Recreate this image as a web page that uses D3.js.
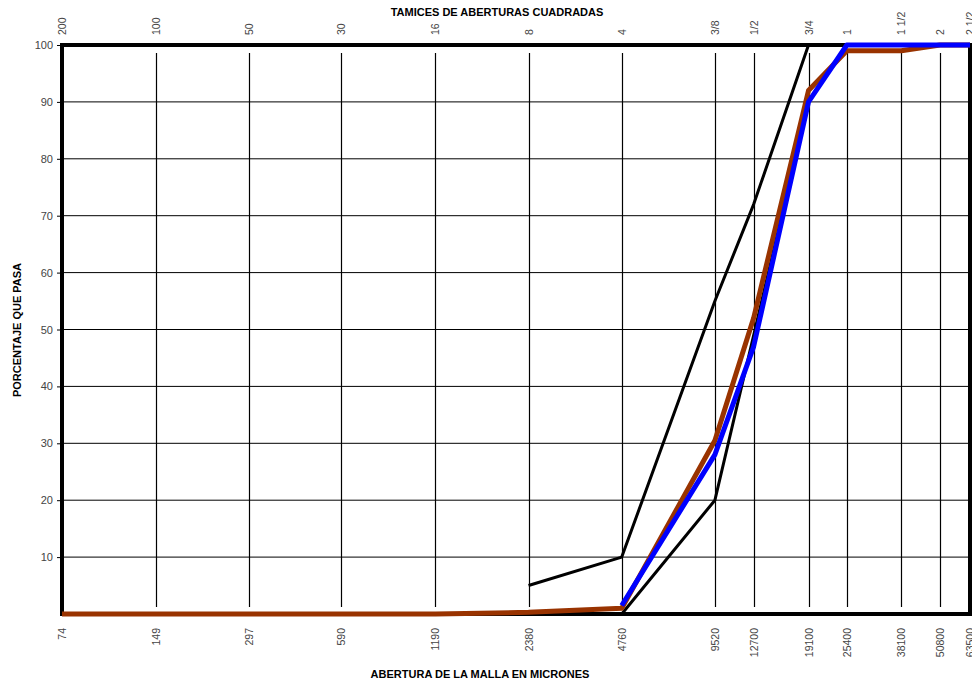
<!DOCTYPE html>
<html><head><meta charset="utf-8">
<script src="https://cdn.jsdelivr.net/npm/d3@7"></script>
<style>body{margin:0;background:#fff;} svg{display:block;font-family:"Liberation Sans",Arial,sans-serif;}</style>
</head><body>
<svg id="c" width="972" height="683"></svg>
<script>
const micrones = [74,149,297,590,1190,2380,4760,9520,12700,19100,25400,38100,50800,63500];
const tamices = ["200","100","50","30","16","8","4","3/8","1/2","3/4","1","1 1/2","2","2 1/2"];
const yTicks = [10,20,30,40,50,60,70,80,90,100];

const limiteSup = [[2380,5],[4760,10],[9520,55],[12700,72],[19100,100],[25400,100]];
const limiteInf = [[4760,0],[9520,20],[19100,90],[25400,100],[63500,100]];
const granulometria = [[74,0],[149,0],[297,0],[590,0],[1190,0],[2380,0.3],[4760,1],[9520,30.5],[12700,52],[19100,92],[25400,99],[38100,99],[50800,100],[63500,100]];
const muestra = [[4760,1.5],[9520,28],[12700,47],[19100,90],[25400,100],[38100,100],[50800,100],[63500,100]];

const svg = d3.select("#c");
const L=62,R=970,T=45,B=614;
const x = d3.scaleLog().domain([74,63500]).range([L,R]);
const y = d3.scaleLinear().domain([0,100]).range([B,T]);

// horizontal gridlines
svg.append("g").selectAll("line").data(yTicks.slice(0,-1)).join("line")
  .attr("x1",L).attr("x2",R).attr("y1",d=>y(d)).attr("y2",d=>y(d))
  .attr("stroke","#000").attr("stroke-width",1);
// vertical gridlines
svg.append("g").selectAll("line").data(micrones.slice(1,-1)).join("line")
  .attr("x1",d=>Math.round(x(d))+0.5).attr("x2",d=>Math.round(x(d))+0.5).attr("y1",T+8).attr("y2",B-7)
  .attr("stroke","#000").attr("stroke-width",1.2);

// y axis labels and ticks
const yAxis = d3.axisLeft(y).tickValues(yTicks).tickSize(5).tickPadding(4);
const ga = svg.append("g").attr("transform",`translate(${L},0)`).call(yAxis);
ga.select(".domain").remove();
ga.selectAll("line").attr("stroke","#000");
ga.selectAll("text").attr("font-size",11).attr("fill","#444").attr("font-family","Liberation Sans, Arial, sans-serif");

// bottom labels
svg.append("g").selectAll("text").data(micrones).join("text")
  .attr("transform",d=>`translate(${x(d)+4},628) rotate(-90)`)
  .attr("text-anchor","end").attr("font-size",10.5).attr("fill","#444").text(d=>d);
// top labels
svg.append("g").selectAll("text").data(micrones).join("text")
  .attr("transform",(d,i)=>`translate(${x(d)+4},35) rotate(-90)`)
  .attr("text-anchor","start").attr("font-size",10.5).attr("fill","#444").text((d,i)=>tamices[i]);

// frame
svg.append("rect").attr("x",L).attr("y",T).attr("width",R-L).attr("height",B-T)
  .attr("fill","none").attr("stroke","#000").attr("stroke-width",4);

// curves
const line = d3.line().x(d=>x(d[0])).y(d=>y(d[1]));
svg.append("path").datum(limiteSup).attr("d",line).attr("fill","none").attr("stroke","#000").attr("stroke-width",3).attr("stroke-linejoin","round");
svg.append("path").datum(limiteInf).attr("d",line).attr("fill","none").attr("stroke","#000").attr("stroke-width",3).attr("stroke-linejoin","round");
svg.append("path").datum(granulometria).attr("d",line).attr("fill","none").attr("stroke","#993300").attr("stroke-width",5).attr("stroke-linejoin","round");
svg.append("path").datum(muestra).attr("d",line).attr("fill","none").attr("stroke","#0000ff").attr("stroke-width",5).attr("stroke-linejoin","round");

// titles
svg.append("text").attr("x",497).attr("y",16).attr("text-anchor","middle").attr("font-size",11).attr("font-weight","bold").text("TAMICES DE ABERTURAS CUADRADAS");
svg.append("text").attr("x",480).attr("y",678).attr("text-anchor","middle").attr("font-size",11).attr("font-weight","bold").text("ABERTURA DE LA MALLA EN MICRONES");
svg.append("text").attr("transform","translate(21,330) rotate(-90)").attr("text-anchor","middle").attr("font-size",11).attr("font-weight","bold").text("PORCENTAJE QUE PASA");
</script>
</body></html>
